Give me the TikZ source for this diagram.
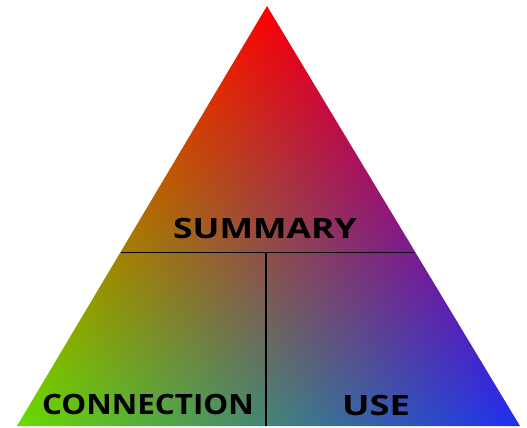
\documentclass[tikz,border=0pt]{standalone}
\usepackage{fontspec}
\setmainfont{Open Sans}
\pgfdeclarefunctionalshading{tricolor}{\pgfpoint{-50bp}{-50bp}}{\pgfpoint{50bp}{50bp}}{}{
25 add 50 div exch 25 add 50 div
1 index 2 div sub
2 copy add 1 exch sub
2 index 0.98 mul 2 index 0.12 mul add 1 index 0.40 mul add
3 index 0.0 mul 3 index 0.18 mul add 2 index 0.86 mul add
4 index 0.02 mul 4 index 0.95 mul add 3 index 0.0 mul add
6 3 roll pop pop pop
}
\tikzset{
  lbl/.style={inner sep=0pt, font=\fontsize{28}{28}\selectfont\bfseries, text=black},
  divider/.style={line width=1.8pt, black}
}
\begin{document}
\begin{tikzpicture}[x=1pt,y=-1pt]
\useasboundingbox (0,0) rectangle (527,428);
\coordinate (apex) at (267,6);
\coordinate (bl) at (17,426);
\coordinate (br) at (520,426);
\shade[shading=tricolor] (apex) -- (bl) -- (br) -- cycle;
\coordinate (hl) at (120.5,252.5);
\coordinate (hr) at (414,252.5);
\coordinate (vt) at (266,252.5);
\coordinate (vb) at (266,426);
\draw[divider] (hl) -- (hr);
\draw[divider] (vt) -- (vb);
\node[lbl, xscale=1.27] (summary) at (265,228) {SUMMARY};
\node[lbl, xscale=1.12] (connection) at (148,404) {CONNECTION};
\node[lbl, xscale=1.3] (use) at (376,405.5) {USE};
\end{tikzpicture}
\end{document}
